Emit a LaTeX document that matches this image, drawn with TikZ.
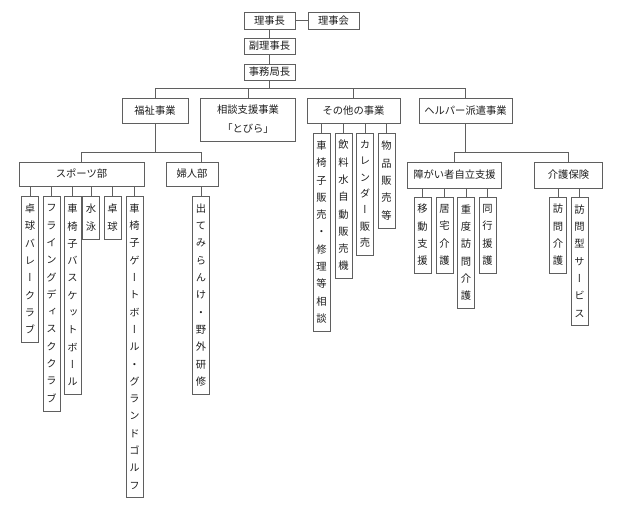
\documentclass[tikz,border=0pt]{standalone}
\usepackage{fontspec}
\newfontfamily\jp{Noto Sans CJK JP}
\newfontfamily\jpv[RawFeature=+vert]{Noto Sans CJK JP}
\definecolor{lc}{RGB}{95,95,95}
\definecolor{txt}{RGB}{30,30,30}
\newcommand\vtxt[2][17.3pt]{\vbox{\baselineskip=#1\lineskiplimit=-20pt\lineskip=0pt\vtxtaux#2\relax}}
\def\vtxtaux#1{\ifx\relax#1\else\hbox to 12pt{\hss#1\hss}\expandafter\vtxtaux\fi}
\tikzset{
  box/.style={draw=lc, line width=0.7pt, inner sep=0pt, text=txt,
    font=\jp\fontsize{10.3}{19}\selectfont},
  vb/.style={box, font=\jpv\fontsize{10.3}{12}\selectfont, minimum width=17pt},
  conn/.style={draw=lc, line width=0.7pt}
}
\begin{document}
\begin{tikzpicture}[x=1pt, y=-1pt]
\useasboundingbox (0,0) rectangle (620,517);
% top
\node[box, minimum width=51pt, minimum height=17pt] (rijicho) at (269.5,20.5) {理事長};
\node[box, minimum width=51pt, minimum height=17pt] (rijikai) at (333.5,20.5) {理事会};
\node[box, minimum width=51pt, minimum height=16pt] (fuku) at (269.5,46) {副理事長};
\node[box, minimum width=51pt, minimum height=16pt] (jimu) at (269.5,72) {事務局長};
\coordinate (b2) at (269.5,88);
% level 2
\node[box, minimum width=66pt, minimum height=25pt] (fukushi) at (155,110.5) {福祉事業};
\node[box, minimum width=95pt, minimum height=43pt, align=center] (soudan) at (248,119.5) {相談支援事業\\「とびら」};
\node[box, minimum width=93pt, minimum height=25pt] (sonota) at (353.5,110.5) {その他の事業};
\node[box, minimum width=93pt, minimum height=25pt] (helper) at (465.5,110.5) {ヘルパー派遣事業};
% level 3
\coordinate (b3) at (155,152);
\coordinate (b4) at (466,152);
\node[box, minimum width=125pt, minimum height=24pt] (sports) at (81.5,174) {スポーツ部};
\node[box, minimum width=52pt, minimum height=24pt] (fujin) at (192,174) {婦人部};
\node[box, minimum width=94pt, minimum height=26pt] (shogai) at (454.5,175) {障がい者自立支援};
\node[box, minimum width=68pt, minimum height=26pt] (kaigo) at (568.5,175) {介護保険};
% sports children
\node[vb, minimum height=146pt] (s1) at (30,269) {\vtxt{卓球バレークラブ}};
\node[vb, minimum height=215pt] (s2) at (51.5,303.5) {\vtxt{フライングディスククラブ}};
\node[vb, minimum height=198pt] (s3) at (72.5,295) {\vtxt{車椅子バスケットボール}};
\node[vb, minimum height=43pt] (s4) at (91,217.5) {\vtxt{水泳}};
\node[vb, minimum height=43pt] (s5) at (112.5,217.5) {\vtxt{卓球}};
\node[vb, minimum height=301pt] (s6) at (134.5,346.5) {\vtxt{車椅子ゲートボール・グランドゴルフ}};
\node[vb, minimum height=198pt] (f1) at (201,295) {\vtxt{出てみらんけ・野外研修}};
% other children
\node[vb, minimum height=198pt] (o1) at (321.5,232) {\vtxt{車椅子販売・修理等相談}};
\node[vb, minimum height=145pt] (o2) at (343.5,205.5) {\vtxt{飲料水自動販売機}};
\node[vb, minimum height=122pt] (o3) at (365,194) {\vtxt[16.3pt]{カレンダー販売}};
\node[vb, minimum height=95pt] (o4) at (386.5,180.5) {\vtxt{物品販売等}};
% helper children
\node[vb, minimum height=76pt] (h1) at (422.5,235) {\vtxt{移動支援}};
\node[vb, minimum height=76pt] (h2) at (444.5,235) {\vtxt{居宅介護}};
\node[vb, minimum height=111pt] (h3) at (466,252.5) {\vtxt{重度訪問介護}};
\node[vb, minimum height=76pt] (h4) at (487.5,235) {\vtxt{同行援護}};
\node[vb, minimum height=76pt] (k1) at (558,235) {\vtxt{訪問介護}};
\node[vb, minimum height=128pt] (k2) at (579.5,261) {\vtxt{訪問型サービス}};
% connectors
\draw[conn] (rijicho.east) -- (rijikai.west);
\draw[conn] (rijicho.south) -- (fuku.north);
\draw[conn] (fuku.south) -- (jimu.north);
\draw[conn] (jimu.south) -- (b2);
\draw[conn] (fukushi.north) |- (b2);
\draw[conn] (soudan.north) |- (b2);
\draw[conn] (sonota.north) |- (b2);
\draw[conn] (helper.north) |- (b2);
\draw[conn] (fukushi.south) -- (b3);
\draw[conn] (sports.north) |- (b3);
\draw[conn] (fujin.north -| f1.north) |- (b3);
\draw[conn] (helper.south) -- (helper.south |- b4);
\draw[conn] (shogai.north) |- (b4);
\draw[conn] (kaigo.north) |- (b4);
\foreach \c in {s1,s2,s3,s4,s5,s6} \draw[conn] (\c.north) -- (\c.north |- sports.south);
\draw[conn] (f1.north) -- (f1.north |- fujin.south);
\foreach \c in {o1,o2,o3,o4} \draw[conn] (\c.north) -- (\c.north |- sonota.south);
\foreach \c in {h1,h2,h3,h4} \draw[conn] (\c.north) -- (\c.north |- shogai.south);
\foreach \c in {k1,k2} \draw[conn] (\c.north) -- (\c.north |- kaigo.south);
\end{tikzpicture}
\end{document}
